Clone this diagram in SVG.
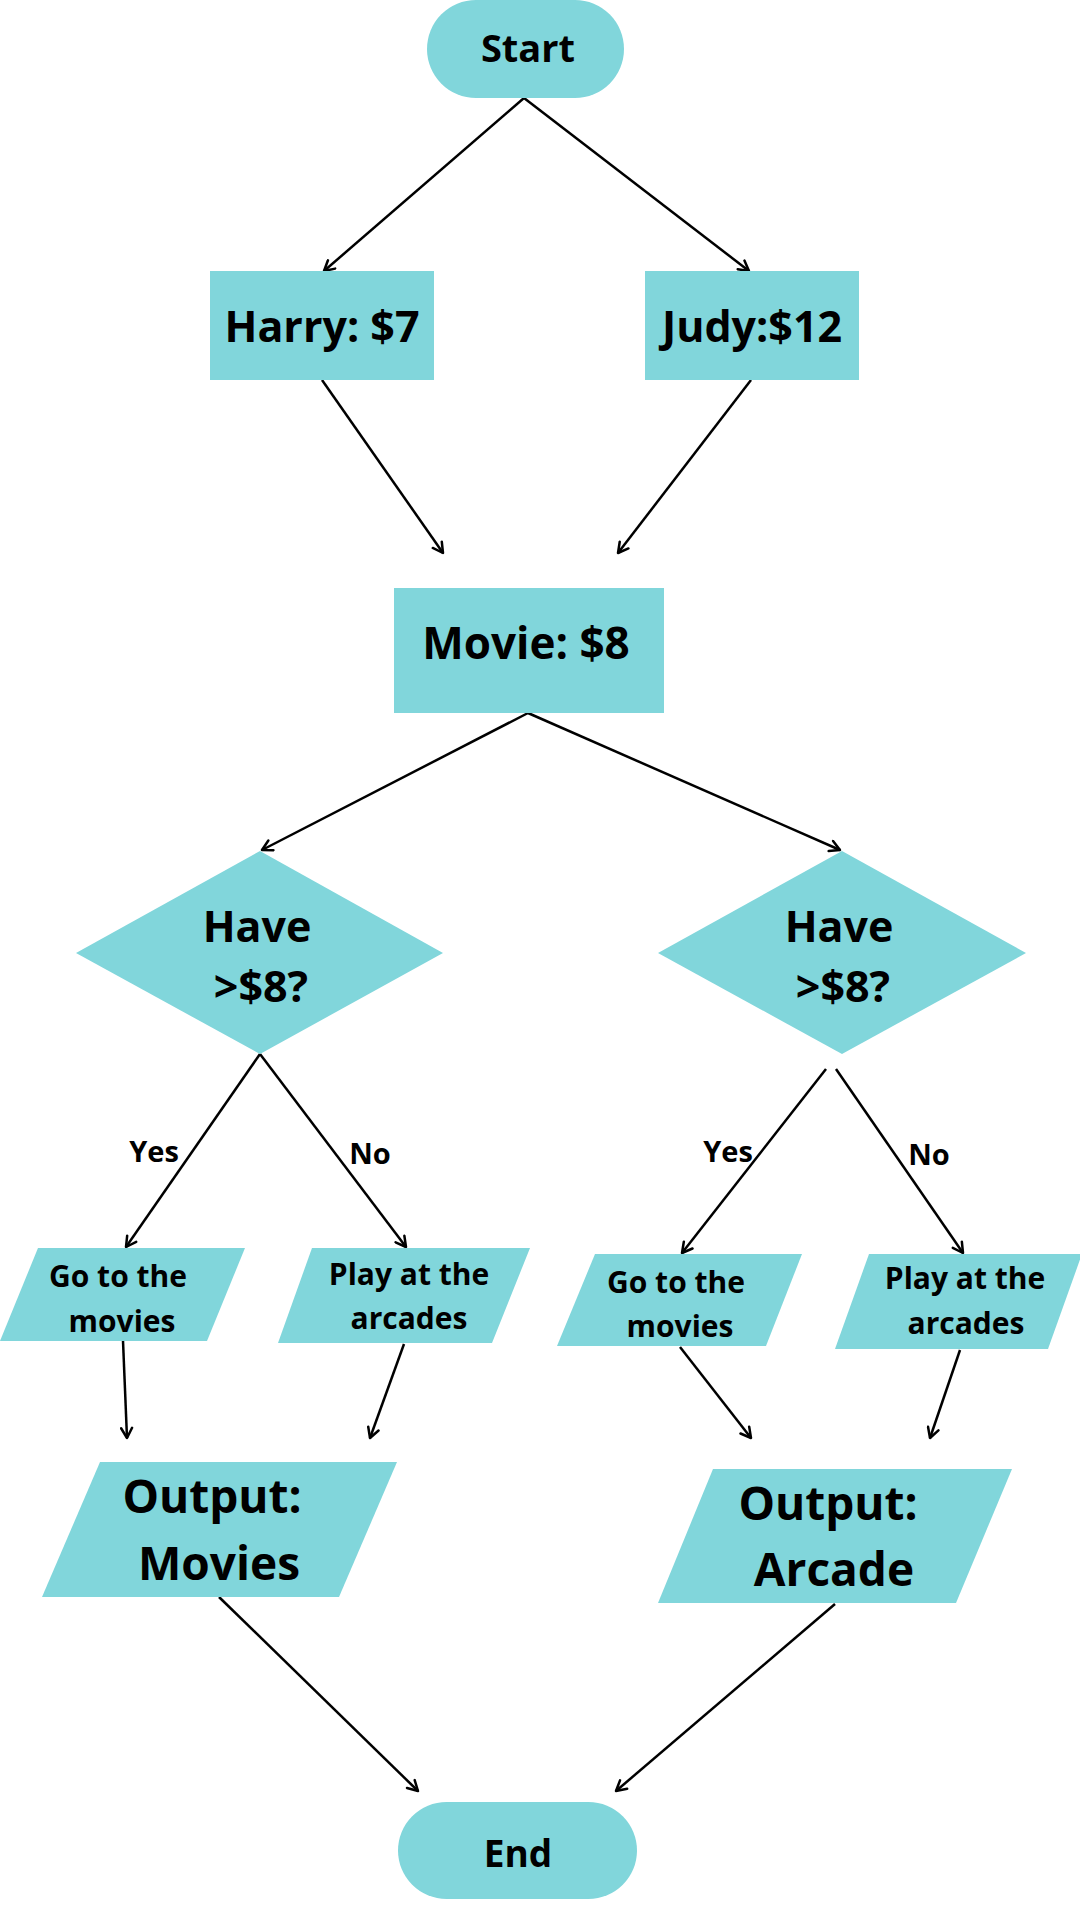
<svg xmlns="http://www.w3.org/2000/svg" width="1080" height="1920" viewBox="0 0 1080 1920">
<style>
.n{fill:#81D6DB;}
.t{font-family:"Open Sans","Noto Sans","Liberation Sans",sans-serif;font-weight:700;fill:#000;text-anchor:middle;}
.c{stroke:#000;stroke-width:2.5;fill:none;marker-end:url(#ah);}
</style>
<defs>
<marker id="ah" markerUnits="userSpaceOnUse" markerWidth="14" markerHeight="14" viewBox="0 0 14 14" refX="12" refY="7" orient="auto">
<path d="M2,1.5 L12,7 L2,12.5" stroke="#000" stroke-width="2.5" fill="none" stroke-linecap="round" stroke-linejoin="round"/>
</marker>
</defs>
<rect width="1080" height="1920" fill="#fff"/>
<g id="connectors">
<line class="c" x1="524" y1="98" x2="324" y2="271"/>
<line class="c" x1="524" y1="98" x2="749" y2="271"/>
<line class="c" x1="322" y1="380" x2="443" y2="553"/>
<line class="c" x1="751" y1="380" x2="618" y2="553"/>
<line class="c" x1="528" y1="713" x2="262" y2="850"/>
<line class="c" x1="528" y1="713" x2="840" y2="850"/>
<line class="c" x1="260" y1="1054" x2="126" y2="1247"/>
<line class="c" x1="260" y1="1054" x2="406" y2="1247"/>
<line class="c" x1="826" y1="1069" x2="682" y2="1253"/>
<line class="c" x1="836" y1="1069" x2="963" y2="1253"/>
<line class="c" x1="123" y1="1341" x2="127" y2="1438"/>
<line class="c" x1="404" y1="1344" x2="370" y2="1438"/>
<line class="c" x1="680" y1="1347" x2="751" y2="1438"/>
<line class="c" x1="960" y1="1350" x2="930" y2="1438"/>
<line class="c" x1="219" y1="1597" x2="418" y2="1791"/>
<line class="c" x1="835" y1="1604" x2="616" y2="1791"/>
</g>
<g id="start"><rect class="n" x="427" y="0" width="197" height="98" rx="49"/><text class="t" x="528" y="62" font-size="38">Start</text></g>
<g id="harry"><rect class="n" x="210" y="271" width="224" height="109"/><text class="t" x="322" y="342" font-size="43">Harry: $7</text></g>
<g id="judy"><rect class="n" x="645" y="271" width="214" height="109"/><text class="t" x="752" y="342" font-size="43">Judy:$12</text></g>
<g id="movie"><rect class="n" x="394" y="588" width="270" height="125"/><text class="t" x="526" y="659" font-size="44">Movie: $8</text></g>
<g id="decision-left"><polygon class="n" points="260,851 443,953 260,1054 76,953"/><text class="t" x="257" y="942" font-size="43">Have</text><text class="t" x="261" y="1002" font-size="43">&gt;$8?</text></g>
<g id="decision-right"><polygon class="n" points="842,851 1026,953 842,1054 658,953"/><text class="t" x="839" y="942" font-size="43">Have</text><text class="t" x="843" y="1002" font-size="43">&gt;$8?</text></g>
<g id="label-yes-left"><text class="t" x="154" y="1162" font-size="29">Yes</text></g>
<g id="label-no-left"><text class="t" x="370" y="1164" font-size="29">No</text></g>
<g id="label-yes-right"><text class="t" x="728" y="1162" font-size="29">Yes</text></g>
<g id="label-no-right"><text class="t" x="929" y="1165" font-size="29">No</text></g>
<g id="go-left"><polygon class="n" points="38,1248 245,1248 207,1341 0,1341"/><text class="t" x="118" y="1287" font-size="30">Go to the</text><text class="t" x="122" y="1332" font-size="30">movies</text></g>
<g id="play-left"><polygon class="n" points="312,1248 530,1248 492,1343 278,1343"/><text class="t" x="409" y="1285" font-size="30">Play at the</text><text class="t" x="409" y="1329" font-size="30">arcades</text></g>
<g id="go-right"><polygon class="n" points="595,1254 802,1254 766,1346 557,1346"/><text class="t" x="676" y="1293" font-size="30">Go to the</text><text class="t" x="680" y="1337" font-size="30">movies</text></g>
<g id="play-right"><polygon class="n" points="869,1254 1082,1254 1048,1349 835,1349"/><text class="t" x="965" y="1289" font-size="30">Play at the</text><text class="t" x="966" y="1334" font-size="30">arcades</text></g>
<g id="output-movies"><polygon class="n" points="100,1462 397,1462 339,1597 42,1597"/><text class="t" x="212" y="1513" font-size="46">Output:</text><text class="t" x="219" y="1580" font-size="46">Movies</text></g>
<g id="output-arcade"><polygon class="n" points="713,1469 1012,1469 956,1603 658,1603"/><text class="t" x="828" y="1520" font-size="46">Output:</text><text class="t" x="834" y="1586" font-size="46">Arcade</text></g>
<g id="end"><rect class="n" x="398" y="1802" width="239" height="97" rx="48.5"/><text class="t" x="518" y="1867" font-size="37">End</text></g>
</svg>
